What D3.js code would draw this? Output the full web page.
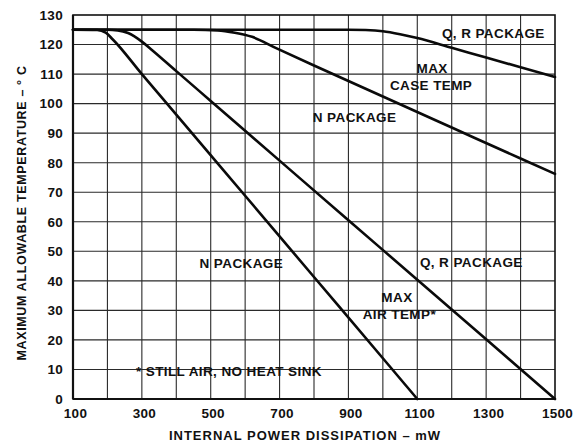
<!DOCTYPE html>
<html><head><meta charset="utf-8">
<script src="https://cdn.jsdelivr.net/npm/d3@7"></script>
<style>
html,body{margin:0;padding:0;background:#fff;}
text{font-family:"Liberation Sans",Arial,Helvetica,sans-serif;font-weight:bold;fill:#111;}
</style></head>
<body>
<svg id="c" width="582" height="445"></svg>
<script>
// Data (power in mW, temperature in °C)
const xTickLabels = [100, 300, 500, 700, 900, 1100, 1300, 1500];
const yTickLabels = [0, 10, 20, 30, 40, 50, 60, 70, 80, 90, 100, 110, 120, 130];

// MAX CASE TEMP, Q, R package
const qrCasePower = [100, 900, 950, 1000, 1050, 1100, 1200, 1300, 1400, 1500];
const qrCaseTemp  = [125, 125, 124.9, 124.5, 123.5, 122.2, 118.9, 115.6, 112.3, 109];

// MAX CASE TEMP, N package
const nCasePower = [100, 450, 520, 570, 620, 690, 800, 1000, 1200, 1400, 1500];
const nCaseTemp  = [125, 125, 124.8, 124, 122.6, 118.8, 112.9, 102.4, 91.9, 81.4, 76.2];

// MAX AIR TEMP, Q, R package
const qrAirPower = [100, 200, 230, 260, 300, 330, 400, 500, 700, 900, 1100, 1300, 1500];
const qrAirTemp  = [125, 125, 124.8, 123.9, 121.0, 118.1, 111.0, 100.9, 80.7, 60.5, 40.4, 20.2, 0];

// MAX AIR TEMP, N package
const nAirPower = [100, 170, 195, 215, 300, 400, 600, 800, 1000, 1100];
const nAirTemp  = [125, 124.9, 124, 121.8, 110, 96.3, 68.8, 41.3, 13.8, 0];

const labelTexts = ["Q, R PACKAGE", "MAX", "CASE TEMP", "N PACKAGE", "N PACKAGE", "Q, R PACKAGE", "MAX", "AIR TEMP*", "* STILL AIR, NO HEAT SINK"];
const labelPower = [1321, 1143, 1140, 918, 589, 1257, 1041, 1048, 553];
const labelTemp  = [123.9, 112.1, 106.3, 95.3, 46.0, 46.4, 34.5, 28.8, 9.5];

const svg = d3.select("#c");
const m = {l:73, t:15, r:27, b:46};
const W = 582 - m.l - m.r, H = 445 - m.t - m.b;
const x = d3.scaleLinear().domain([100, 1500]).range([m.l, m.l + W]);
const y = d3.scaleLinear().domain([0, 130]).range([m.t + H, m.t]);

// grid
const g = svg.append("g");
g.selectAll("line.v").data(d3.range(200, 1500, 100)).join("line")
  .attr("x1", d => x(d)).attr("x2", d => x(d))
  .attr("y1", y(0)).attr("y2", y(130))
  .attr("stroke", "#2a2a2a").attr("stroke-width", 1.1);
g.selectAll("line.h").data(d3.range(10, 130, 10)).join("line")
  .attr("x1", x(100)).attr("x2", x(1500))
  .attr("y1", d => y(d)).attr("y2", d => y(d))
  .attr("stroke", "#2a2a2a").attr("stroke-width", 1.1);

// frame
svg.append("rect").attr("x", x(100)).attr("y", y(130))
  .attr("width", x(1500) - x(100)).attr("height", y(0) - y(130))
  .attr("fill", "none").attr("stroke", "#111").attr("stroke-width", 1.6);
svg.append("line").attr("x1", x(100)).attr("x2", x(100)).attr("y1", y(0)).attr("y2", y(130))
  .attr("stroke", "#111").attr("stroke-width", 2.2);
svg.append("line").attr("x1", x(100)).attr("x2", x(1500)).attr("y1", y(0)).attr("y2", y(0))
  .attr("stroke", "#111").attr("stroke-width", 2.2);

// axes (labels only)
const xAxis = d3.axisBottom(x).tickValues(xTickLabels).tickSize(0).tickPadding(9).tickFormat(d3.format("d"));
const yAxis = d3.axisLeft(y).tickValues(yTickLabels).tickSize(0).tickPadding(10).tickFormat(d3.format("d"));
const gx = svg.append("g").attr("transform", `translate(0,${y(0)})`).call(xAxis);
const gy = svg.append("g").attr("transform", `translate(${x(100)},0)`).call(yAxis);
[gx, gy].forEach(a => {
  a.select(".domain").remove();
  a.selectAll("text").attr("font-size", 13.5).attr("letter-spacing", 0.3)
    .style("font-family", '"Liberation Sans",Arial,sans-serif').style("font-weight", "bold").attr("fill", "#111");
});
gx.selectAll("text").attr("dx", 2);

// curves
const line = d3.line().x(d => x(d[0])).y(d => y(d[1])).curve(d3.curveMonotoneX);
const series = [
  d3.zip(qrCasePower, qrCaseTemp),
  d3.zip(nCasePower, nCaseTemp),
  d3.zip(qrAirPower, qrAirTemp),
  d3.zip(nAirPower, nAirTemp)
];
svg.selectAll("path.curve").data(series).join("path")
  .attr("class", "curve").attr("d", line)
  .attr("fill", "none").attr("stroke", "#0a0a0a").attr("stroke-width", 2.6)
  .attr("stroke-linejoin", "round").attr("stroke-linecap", "round");

// annotations
svg.selectAll("text.lab").data(labelTexts.map((t, i) => ({t, p: labelPower[i], v: labelTemp[i]}))).join("text")
  .attr("class", "lab")
  .attr("x", d => x(d.p)).attr("y", d => y(d.v)).attr("dy", "0.36em")
  .attr("text-anchor", "middle").attr("font-size", 13.5).attr("letter-spacing", 0.4)
  .text(d => d.t);

// axis titles
svg.append("text").attr("text-anchor", "middle").attr("font-size", 12.5).attr("letter-spacing", 0.65)
  .attr("transform", `translate(${m.l - 52},${(y(0) + y(130)) / 2 + 6}) rotate(-90)`)
  .attr("dy", "0.36em")
  .text("MAXIMUM ALLOWABLE TEMPERATURE – ° C");
svg.append("text").attr("text-anchor", "middle").attr("font-size", 13).attr("letter-spacing", 1.0)
  .attr("x", 305).attr("y", 440)
  .text("INTERNAL POWER DISSIPATION – mW");
</script>
</body></html>
